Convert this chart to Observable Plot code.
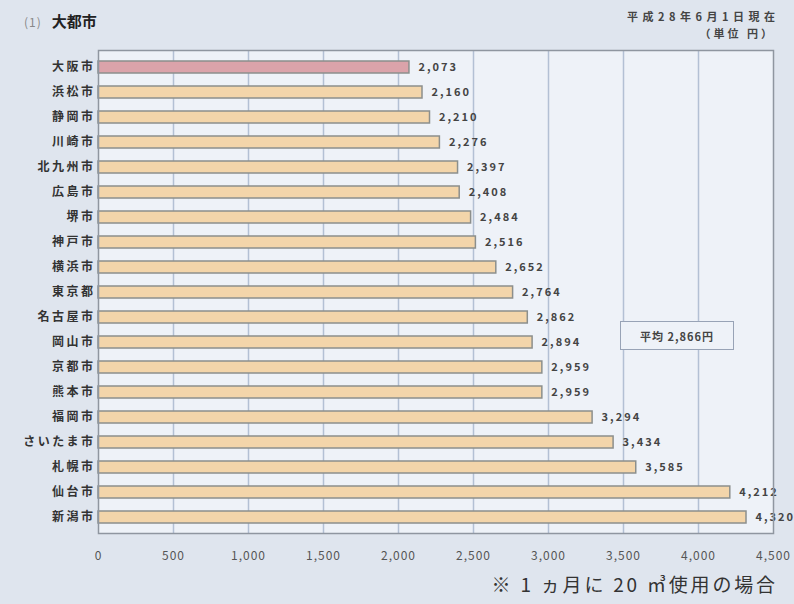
<!DOCTYPE html>
<html>
<head>
<meta charset="utf-8">
<script src="https://cdn.jsdelivr.net/npm/d3@7"></script>
<script src="https://cdn.jsdelivr.net/npm/@observablehq/plot@0.6"></script>
<style>
  html, body { margin: 0; padding: 0; background: #dfe5ee; }
  #wrap { position: relative; width: 794px; height: 604px; overflow: hidden;
    font-family: "Noto Sans CJK JP", "Noto Sans", sans-serif; color: #333; }
  #chart { position: absolute; left: 0; top: 0; }
  .abs { position: absolute; white-space: nowrap; }
  #title { left: 24px; top: 11px; font-size: 15px; font-weight: bold; color: #222; line-height: 20px; }
  #title span { color: #888; font-weight: normal; font-size: 12px; margin-right: 10px; letter-spacing: 1px; }
  #date { right: 19px; top: 8px; font-size: 11px; font-weight: bold; color: #444; letter-spacing: 4.5px; margin-right: -4.5px; }
  #unit { right: 22px; top: 25px; font-size: 11px; font-weight: bold; color: #444; letter-spacing: 3px; margin-right: -3px; }
  #avg { left: 620px; top: 321px; width: 114px; height: 29px; border: 1.5px solid #98a3b6;
    background: #eef2f8; font-size: 11px; font-weight: bold; color: #444; letter-spacing: 1px;
    display: flex; align-items: center; justify-content: center; box-sizing: border-box; }
  #note { right: 19px; top: 570px; font-size: 19px; color: #333; letter-spacing: 2.8px; margin-right: -2.8px; }
</style>
</head>
<body>
<div id="wrap">
  <div id="chart"></div>
  <div id="title" class="abs"><span>(1)</span>大都市</div>
  <div id="date" class="abs">平成28年6月1日現在</div>
  <div id="unit" class="abs">（単位 円）</div>
  <div id="avg" class="abs"></div>
  <div id="note" class="abs">※ 1 ヵ月に 20 ㎥使用の場合</div>
</div>
<script>
const cities = ["大阪市","浜松市","静岡市","川崎市","北九州市","広島市","堺市","神戸市","横浜市","東京都",
  "名古屋市","岡山市","京都市","熊本市","福岡市","さいたま市","札幌市","仙台市","新潟市"];
const values = [2073,2160,2210,2276,2397,2408,2484,2516,2652,2764,2862,2894,2959,2959,3294,3434,3585,4212,4320];
const highlight = "大阪市";
const average = 2866;
const xTicks = [0,500,1000,1500,2000,2500,3000,3500,4000,4500];

const data = cities.map((c, i) => ({city: c, value: values[i]}));
const fmt = d3.format(",");

const chart = Plot.plot({
  width: 794,
  height: 604,
  marginTop: 50,
  marginBottom: 71,
  marginLeft: 98,
  marginRight: 21,
  style: {background: "transparent", fontFamily: "'Noto Sans CJK JP', sans-serif"},
  x: {domain: [0, 4500]},
  y: {domain: cities, paddingInner: 0.52, paddingOuter: 0.27},
  marks: [
    Plot.frame({fill: "#eef2f8", stroke: null}),
    Plot.gridX(xTicks.slice(1, -1), {stroke: "#b3c0d4", strokeOpacity: 1, strokeWidth: 1.5}),
    Plot.barX(data, {
      x: "value", y: "city",
      fill: d => d.city === highlight ? "#dba3aa" : "#f3d5aa",
      stroke: "#8c8f8c", strokeWidth: 1.5
    }),
    Plot.text(data, {
      x: "value", y: "city", text: d => fmt(d.value),
      dx: 9, textAnchor: "start", fontSize: 11, fontWeight: "bold", fill: "#444"
    }),
    Plot.frame({stroke: "#8f96a0", strokeWidth: 1.5}),
    Plot.axisY({tickSize: 0, tickPadding: 3, fontSize: 12, fontWeight: "bold", color: "#333", label: null}),
    Plot.axisX({ticks: xTicks, tickFormat: fmt, tickSize: 0, tickPadding: 18, fontSize: 12, color: "#555", label: null})
  ]
});
document.getElementById("chart").appendChild(chart);
d3.select(chart).selectAll("g[aria-label='y-axis tick label'] text").style("letter-spacing", "2.5px");
d3.select(chart).selectAll("g[aria-label='text'] text").style("letter-spacing", "2px");
d3.select(chart).selectAll("g[aria-label='x-axis tick label'] text").style("letter-spacing", "1px");
document.getElementById("avg").textContent = "平均 " + fmt(average) + "円";
</script>
</body>
</html>
